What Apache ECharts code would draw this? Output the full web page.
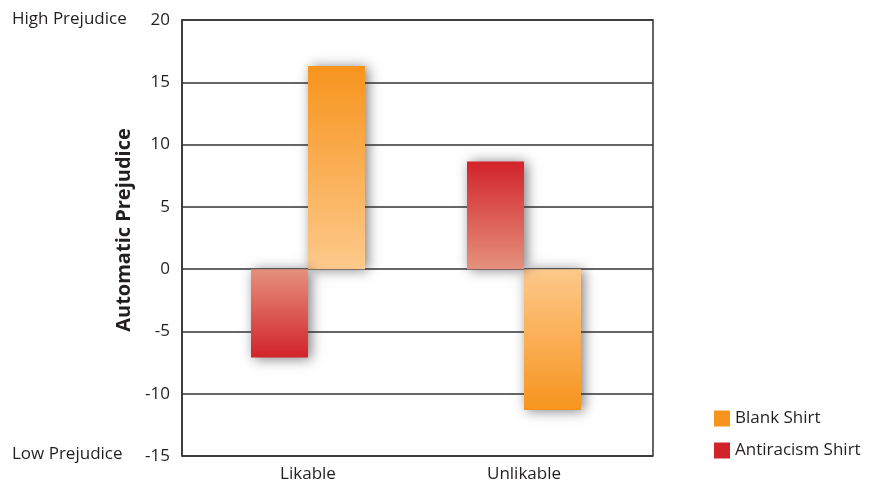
<!DOCTYPE html>
<html>
<head>
<meta charset="utf-8">
<script src="https://cdn.jsdelivr.net/npm/echarts@6/dist/echarts.min.js"></script>
<style>
html,body{margin:0;padding:0;background:#fff;}
#chart{width:875px;height:485px;}
</style>
</head>
<body>
<div id="chart"></div>
<script>
var categories = ['Likable', 'Unlikable'];
var antiracismValues = [-7.1, 8.65];
var blankValues = [16.3, -11.3];
var yTicks = { min: -15, max: 20, interval: 5 };
var seriesNames = ['Blank Shirt', 'Antiracism Shirt'];
var endLabels = ['High Prejudice', 'Low Prejudice'];
var yTitle = 'Automatic Prejudice';

var FONT = '"Open Sans", "Noto Sans", sans-serif';
var TXT = '#231f20';
var ORANGE = ['#f7941d', '#fdc98b'];
var RED = ['#d2232a', '#e5917d'];

function grad(v, c) {
  var stops = v >= 0
    ? [{offset: 0, color: c[0]}, {offset: 1, color: c[1]}]
    : [{offset: 0, color: c[1]}, {offset: 1, color: c[0]}];
  return new echarts.graphic.LinearGradient(0, 0, 0, 1, stops);
}
function items(vals, c) {
  return vals.map(function (v) {
    return { value: v, itemStyle: { color: grad(v, c) } };
  });
}

var chart = echarts.init(document.getElementById('chart'), null, {renderer: 'canvas'});
var shadow = { shadowColor: 'rgba(40,40,50,0.6)', shadowBlur: 12, shadowOffsetX: 3, shadowOffsetY: 1 };

chart.setOption({
  animation: false,
  textStyle: { fontFamily: FONT, color: TXT },
  grid: [
    { left: 182, right: 222, top: 20, bottom: 29, show: true, borderColor: '#333', borderWidth: 1.5, backgroundColor: 'transparent' },
    { left: 200, right: 243, top: 20, bottom: 29 }
  ],
  xAxis: [
    { gridIndex: 0, type: 'category', data: categories, show: false },
    { gridIndex: 1, type: 'category', data: categories,
      axisLine: { show: false }, axisTick: { show: false },
      axisLabel: { fontSize: 17, color: TXT, margin: 10, fontFamily: FONT } }
  ],
  yAxis: [
    { gridIndex: 0, type: 'value', min: yTicks.min, max: yTicks.max, interval: yTicks.interval,
      axisLine: { show: true, lineStyle: { color: '#333', width: 1.5 } },
      axisTick: { show: false },
      splitLine: { show: true, lineStyle: { color: '#333', width: 1.5 } },
      axisLabel: { fontSize: 17, color: TXT, margin: 12, fontFamily: FONT }
    },
    { gridIndex: 1, type: 'value', min: yTicks.min, max: yTicks.max, interval: yTicks.interval, show: false,
      splitLine: { show: false } }
  ],
  legend: {
    orient: 'vertical', left: 709, top: 405, itemWidth: 16, itemHeight: 16, itemGap: 15,
    textStyle: { fontSize: 17, color: TXT, fontFamily: FONT },
    data: [
      { name: seriesNames[0], icon: 'rect', itemStyle: { color: ORANGE[0], shadowBlur: 0, shadowOffsetX: 0, shadowOffsetY: 0, shadowColor: 'transparent' } },
      { name: seriesNames[1], icon: 'rect', itemStyle: { color: RED[0], shadowBlur: 0, shadowOffsetX: 0, shadowOffsetY: 0, shadowColor: 'transparent' } }
    ]
  },
  graphic: [
    { type: 'text', left: 12, top: 11, style: { text: endLabels[0], font: '17px ' + FONT, fill: TXT } },
    { type: 'text', left: 12, top: 446, style: { text: endLabels[1], font: '17px ' + FONT, fill: TXT } },
    { type: 'text', x: 124, y: 230, rotation: Math.PI / 2,
      style: { text: yTitle, font: 'bold 20px ' + FONT, fill: TXT, align: 'center', verticalAlign: 'middle' } }
  ],
  series: [
    { name: seriesNames[1], type: 'bar', xAxisIndex: 1, yAxisIndex: 1, barWidth: 57, barGap: '0%',
      data: items(antiracismValues, RED), itemStyle: Object.assign({ color: RED[0] }, shadow), z: 3 },
    { name: seriesNames[0], type: 'bar', xAxisIndex: 1, yAxisIndex: 1, barWidth: 57, barGap: '0%',
      data: items(blankValues, ORANGE), itemStyle: Object.assign({ color: ORANGE[0] }, shadow), z: 2 }
  ]
});
</script>
</body>
</html>
